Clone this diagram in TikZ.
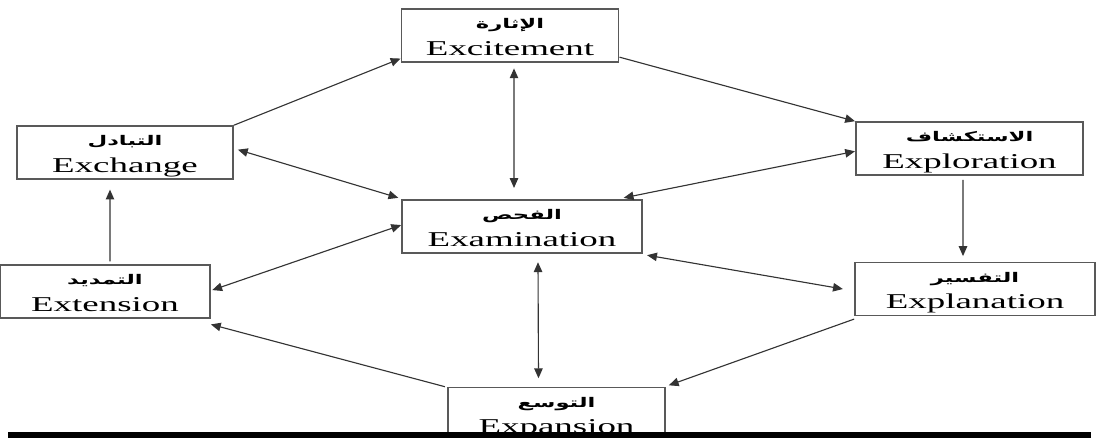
\documentclass[tikz,border=0pt]{standalone}
\usepackage{fontspec}
\usetikzlibrary{arrows.meta}
\TeXXeTstate=1
\newfontfamily\arabicfont[Script=Arabic, FakeStretch=1.7]{DejaVu Sans}
\newfontfamily\engfont[FakeStretch=1.75]{Liberation Serif}
\newcommand{\stagetext}[2]{{\arabicfont\bfseries\fontsize{9.5}{10}\selectfont\rule{0pt}{14pt}\beginR #1\endR}\\{\engfont\fontsize{15}{16}\selectfont\rule[-4.6pt]{0pt}{0pt}#2}}
\tikzset{
  stage/.style={draw=black!65, line width=1.2pt, align=center, inner sep=0pt, font=\fontsize{10}{19}\selectfont},
  link/.style={draw=black!80, line width=0.8pt}
}
\begin{document}
\begin{tikzpicture}[x=0.025cm, y=-0.025cm, >={Triangle[length=7pt,width=6pt]}]
      \useasboundingbox (0,0) rectangle (1097,438);
      \clip (0,0) rectangle (1097,438);
      \path
        (510,35.5) node[stage, minimum width=5.43cm] (excit){\stagetext{الإثارة}{Excitement}}
        (125,152.5) node[stage, minimum width=5.4cm] (exch){\stagetext{التبادل}{Exchange}}
        (969.5,148.5) node[stage, minimum width=5.68cm] (explor){\stagetext{الاستكشاف}{Exploration}}
        (522,226.5) node[stage, minimum width=6cm] (exam){\stagetext{الفحص}{Examination}}
        (105,291.5) node[stage, minimum width=5.25cm] (exten){\stagetext{التمديد}{Extension}}
        (975,289) node[stage, minimum width=6cm] (explan){\stagetext{التفسير}{Explanation}}
        (556.5,414) node[stage, minimum width=5.43cm] (expan){\stagetext{التوسع}{Expansion}};
      \begin{scope}[link, ->]
        \draw (exch.north east) to ([yshift=3pt]excit.south west);
        \draw ([yshift=4pt]excit.south east) to (explor.north west);
        \draw ([xshift=-0.1625cm, yshift=-3pt]explor.south) to ([xshift=-0.3cm, yshift=4pt]explan.north);
        \draw ([xshift=-1.5pt]expan.north west) to ([yshift=-4pt]exten.south east);
        \draw ([yshift=-2pt]explan.south west) to ([xshift=2pt, yshift=1pt]expan.north east);
        \draw ([xshift=0.125cm, yshift=2pt]exten.north) to ([xshift=-0.375cm, yshift=-7pt]exch.south);
      \end{scope}
      \begin{scope}[link, <->]
        \draw ([xshift=0.1cm, yshift=-4pt]excit.south) to ([xshift=-0.2cm, yshift=8pt]exam.north);
        \draw ([xshift=0.1cm, yshift=2pt]exch.east) to ([xshift=-2pt, yshift=1pt]exam.north west);
        \draw ([yshift=-2pt]explor.west) to ([xshift=-0.48cm, yshift=1pt]exam.north east);
        \draw ([yshift=1pt]exam.west) to ([xshift=1pt, yshift=1pt]exten.east);
        \draw ([xshift=3pt, yshift=-1pt]exam.south east) to ([xshift=-8pt]explan.west);
        \draw ([xshift=0.4cm, yshift=-6pt]exam.south) to ([xshift=-0.45cm, yshift=6pt]expan.north);
      \end{scope}
      \fill[black] (8,432) rectangle (1091,438);
    \end{tikzpicture}
\end{document}
